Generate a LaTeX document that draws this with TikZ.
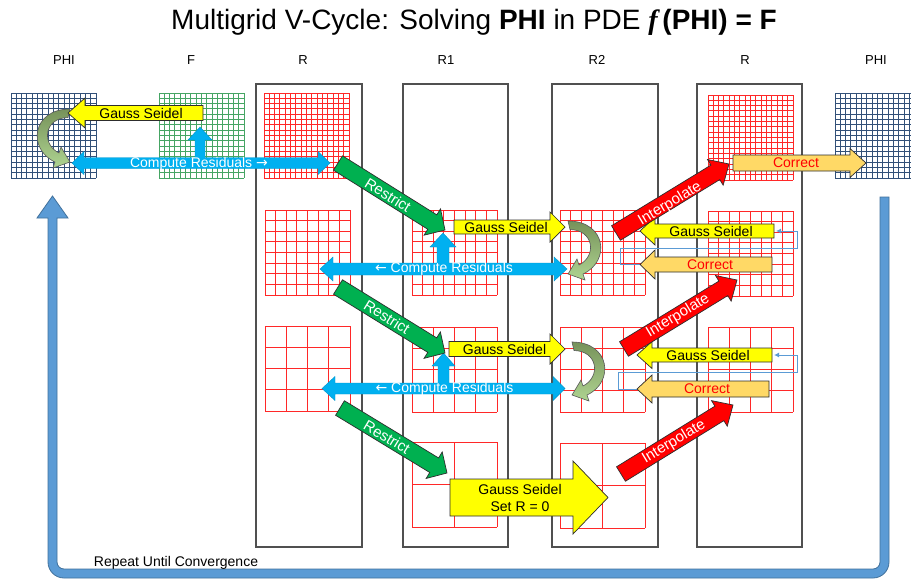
\documentclass[tikz,border=0pt]{standalone}
\usepackage{fontspec}
\setmainfont{Liberation Sans}
\newfontfamily\tnr{Liberation Serif}
\newfontfamily\djv{DejaVu Sans}
\usetikzlibrary{arrows.meta}
\definecolor{gsyellow}{RGB}{255,255,0}
\definecolor{resblue}{RGB}{0,176,240}
\definecolor{resgreen}{RGB}{0,176,80}
\definecolor{intred}{RGB}{255,0,0}
\definecolor{corrorange}{RGB}{255,217,102}
\definecolor{loopblue}{RGB}{91,155,213}
\definecolor{loopedge}{RGB}{65,113,156}
\definecolor{gridred}{RGB}{255,40,40}
\definecolor{gridblue}{RGB}{50,80,120}
\definecolor{gridgreen}{RGB}{70,165,100}
\definecolor{boxgray}{RGB}{80,80,80}
\definecolor{curvedark}{RGB}{118,146,90}
\definecolor{curvelight}{RGB}{175,212,145}
\definecolor{outl}{RGB}{45,45,45}
\newcommand{\blockarrow}[8]{% style, x1,y1 (tail), x2,y2 (tip), shaft half, head half, head length
  \pgfmathsetmacro{\bang}{atan2(-(#5-#3),#4-#2)}%
  \pgfmathsetmacro{\blen}{veclen(#4-#2,#5-#3)}%
  \pgfmathsetmacro{\bneck}{\blen-#8}%
  \draw[#1,shift={(#2,#3)},rotate=\bang] (0,#6) -- (\bneck,#6) -- (\bneck,#7) -- (\blen,0) -- (\bneck,-#7) -- (\bneck,-#6) -- (0,-#6) -- cycle;%
}
\newcommand{\mgrid}[5]{% x0,y0,size,n,color
  \foreach \gi in {0,...,#4}{%
    \draw[#5,line width=0.9pt] ({#1+\gi*#3/#4},#2) -- ({#1+\gi*#3/#4},{#2+#3});%
    \draw[#5,line width=0.9pt] (#1,{#2+\gi*#3/#4}) -- ({#1+#3},{#2+\gi*#3/#4});%
  }%
}
\newcommand{\curvedshape}{%
  \shade[top color=curvedark,bottom color=curvelight,draw=outl!80,line width=0.6pt]
    (0,0) .. controls (38,0) and (43,40) .. (15,53) -- (17,59) -- (0,53) -- (9,38) -- (11,44)
    .. controls (29,35) and (26,9) .. (2,8.5) -- cycle;%
}
\begin{document}
\begin{tikzpicture}[x=1pt,y=-1pt,
  lbl/.style={font=\fontsize{14}{16.7}\selectfont,inner sep=0pt},
  dlbl/.style={font=\fontsize{15}{17}\selectfont,inner sep=0pt,white},
  head/.style={font=\fontsize{13}{15}\selectfont,inner sep=0pt},
  colbox/.style={draw=boxgray,line width=1.1pt},
  gsarrow/.style={fill=gsyellow,draw=outl,line width=0.7pt},
  corrarrow/.style={fill=corrorange,draw=outl,line width=0.7pt},
  rsarrow/.style={fill=resgreen,draw=outl,line width=0.7pt},
  iparrow/.style={fill=intred,draw=outl,line width=0.7pt},
  resarrow/.style={fill=resblue,draw=resblue!85!black,line width=0.4pt},
  conn/.style={draw=loopblue,line width=1pt},
  loopstyle/.style={fill=loopblue,draw=loopedge,line width=0.8pt}]
\clip (0,0) rectangle (911,579);
\fill[white] (0,0) rectangle (911,579);

% title and headings
\node[inner sep=0pt,font=\fontsize{28}{34}\selectfont] (title) at (474,22)
  {Multigrid V-Cycle: Solving \textbf{PHI} in PDE {\tnr\bfseries\itshape f}\,\textbf{(PHI) = F}};
\node[head] (hphi1) at (64,60) {PHI};
\node[head] (hf) at (191,60) {F};
\node[head] (hr1) at (303,60) {R};
\node[head] (hr2) at (446,60) {R1};
\node[head] (hr3) at (597,60) {R2};
\node[head] (hr4) at (745,60) {R};
\node[head] (hphi2) at (876,60) {PHI};

% column boxes
\draw[colbox] (256,84) rectangle (362,547);
\draw[colbox] (403,84) rectangle (508,547);
\draw[colbox] (552,84) rectangle (658,547);
\draw[colbox] (697,84) rectangle (802,547);

% grids
\mgrid{11}{93}{85}{16}{gridblue}
\mgrid{159}{93}{85}{16}{gridgreen}
\mgrid{264}{93}{85}{16}{gridred}
\mgrid{265}{210}{85}{8}{gridred}
\mgrid{265}{326}{85}{4}{gridred}
\mgrid{412}{210}{85}{8}{gridred}
\mgrid{412}{327}{85}{4}{gridred}
\mgrid{412}{442}{85}{2}{gridred}
\mgrid{560}{210}{85}{8}{gridred}
\mgrid{560}{327}{85}{4}{gridred}
\mgrid{560}{443}{85}{2}{gridred}
\mgrid{708}{95}{85}{16}{gridred}
\mgrid{708}{211}{85}{8}{gridred}
\mgrid{708}{327}{85}{4}{gridred}
\mgrid{835}{93}{85}{16}{gridblue}

% thin feedback connectors
\coordinate (ca1) at (640,264);
\coordinate (ca2) at (776,231);
\coordinate (cb1) at (637,389);
\coordinate (cb2) at (774,355);
\draw[conn,-{Latex[length=5pt,width=5pt]}] (ca1) -- (620,264) -- (620,248) -- (797,248) -- (797,231) -- (ca2);
\draw[conn,-{Latex[length=5pt,width=5pt]}] (cb1) -- (618,389) -- (618,372) -- (797,372) -- (797,355) -- (cb2);

% loop arrow
\draw[loopstyle] (889,300) [rounded corners=16pt] -- (889,578) -- (48,578) -- (48,300)
  [sharp corners] -- (48,218) -- (37,218) -- (52.5,196) -- (68,218) -- (57,218) -- (57,300)
  [rounded corners=7pt] -- (57,569) -- (880,569) -- (880,300) [sharp corners] -- (880,197) -- (889,197) -- cycle;
\node[lbl] (trep) at (176,563) {Repeat Until Convergence};

% compute residuals arrows
\draw[resarrow] (72,163) -- (84,151.5) -- (84,157.5) -- (195,157.5) -- (195,140) -- (188,140) -- (200,127)
  -- (212,140) -- (205,140) -- (205,157.5) -- (318,157.5) -- (318,151.5) -- (330,163) -- (318,174.5)
  -- (318,168.5) -- (84,168.5) -- (84,174.5) -- cycle;
\draw[resarrow] (320,269) -- (333,257) -- (333,263) -- (437,263) -- (437,247) -- (430,247) -- (443,233)
  -- (456,247) -- (449,247) -- (449,263) -- (554,263) -- (554,257) -- (567,269) -- (554,281)
  -- (554,275) -- (333,275) -- (333,281) -- cycle;
\draw[resarrow] (322,388.5) -- (335,376.5) -- (335,383) -- (438,383) -- (438,366) -- (432,366) -- (443.5,353)
  -- (455,366) -- (449,366) -- (449,383) -- (553,383) -- (553,376.5) -- (565,388.5) -- (553,400.5)
  -- (553,394) -- (335,394) -- (335,400.5) -- cycle;
\node[lbl,white] (tres1) at (199,164) {Compute Residuals {\djv →}};
\node[lbl,white] (tres2) at (444,269) {{\djv ←} Compute Residuals};
\node[lbl,white] (tres3) at (444.5,389) {{\djv ←} Compute Residuals};

% curved arrows
\begin{scope}[shift={(70,109)},xscale=-1]\curvedshape\end{scope}
\begin{scope}[shift={(568,221)}]\curvedshape\end{scope}
\begin{scope}[shift={(572,342)}]\curvedshape\end{scope}

% Gauss Seidel arrows
\blockarrow{gsarrow}{203}{113}{68}{113}{7.5}{15}{17}
\blockarrow{gsarrow}{454}{227}{565}{227}{7}{15}{15}
\blockarrow{gsarrow}{449}{349}{565}{349}{7.5}{15}{15}
\blockarrow{gsarrow}{774}{231}{640}{231}{7}{14}{15}
\blockarrow{gsarrow}{772}{355}{637}{355}{7}{13.5}{15}
\blockarrow{gsarrow}{450}{497.5}{608}{497.5}{18.5}{36.5}{35}
\node[lbl] (tgs1) at (141,113) {Gauss Seidel};
\node[lbl] (tgs2) at (506,227) {Gauss Seidel};
\node[lbl] (tgs3) at (504.5,349) {Gauss Seidel};
\node[lbl] (tgs4) at (711,231) {Gauss Seidel};
\node[lbl] (tgs5) at (708,355) {Gauss Seidel};
\node[lbl,align=center] (tgs6) at (520,498) {Gauss Seidel\\Set R = 0};

% Correct arrows
\blockarrow{corrarrow}{733}{163}{866}{163}{8}{14.5}{16}
\blockarrow{corrarrow}{772}{264.5}{640}{264.5}{7.5}{14.5}{15}
\blockarrow{corrarrow}{769}{389}{637}{389}{8}{14}{15}
\node[lbl,intred] (tco1) at (796,163) {Correct};
\node[lbl,intred] (tco2) at (710,264.5) {Correct};
\node[lbl,intred] (tco3) at (707,389) {Correct};

% Restrict arrows
\blockarrow{rsarrow}{338}{163}{445}{230}{8.5}{15.5}{15}
\blockarrow{rsarrow}{338}{287}{445}{353}{8.5}{15.5}{15}
\blockarrow{rsarrow}{340}{408}{447}{473}{8.5}{15.5}{15}
\node[dlbl,rotate=-32] (trs1) at (388,195) {Restrict};
\node[dlbl,rotate=-32] (trs2) at (387,317) {Restrict};
\node[dlbl,rotate=-31] (trs3) at (387,437) {Restrict};

% Interpolate arrows
\blockarrow{iparrow}{616}{233}{729}{164}{8.5}{15}{16}
\blockarrow{iparrow}{624}{349}{737}{280}{8.5}{15}{16}
\blockarrow{iparrow}{621}{474}{733}{405}{8.5}{15}{16}
\node[dlbl,rotate=31] (tip1) at (670,204) {Interpolate};
\node[dlbl,rotate=31] (tip2) at (678,316) {Interpolate};
\node[dlbl,rotate=31] (tip3) at (674,442) {Interpolate};
\end{tikzpicture}
\end{document}
